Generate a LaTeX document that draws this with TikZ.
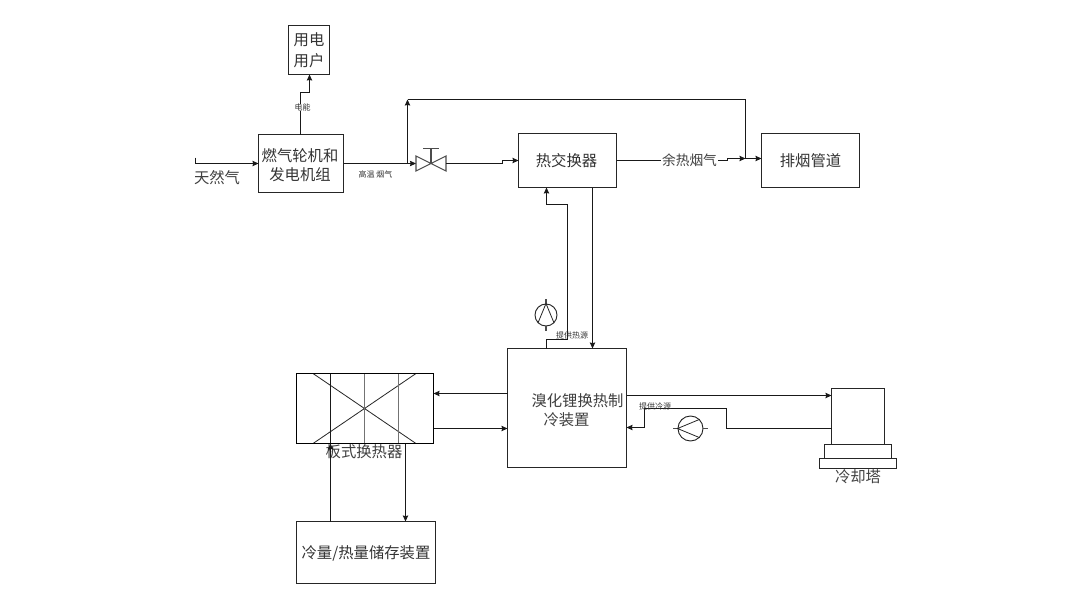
\documentclass[tikz,border=0pt]{standalone}
\usepackage{fontspec}
\setmainfont{Noto Sans CJK SC}
\usetikzlibrary{arrows.meta}
\tikzset{
  x=.75pt,y=-.75pt,
  box/.style n args={2}{draw=black!85,line width=.75pt,fill=white,inner sep=0pt,outer sep=0pt,align=center,
    minimum width=#1*.75pt,minimum height=#2*.75pt,font=\fontsize{11.5}{14.3}\selectfont,text=black!80},
  flow/.style={draw=black!90,line width=.75pt,-{Stealth[length=4.5pt,width=4pt,inset=.5pt]}},
  pipe/.style={draw=black!90,line width=.75pt},
  tiny label/.style={font=\fontsize{6}{7}\selectfont,text=black!80,inner sep=0pt},
  name label/.style={font=\fontsize{11.5}{14.3}\selectfont,text=black!75,inner sep=0pt},
  pumpbody/.style={circle,draw=black!85,line width=.7pt,inner sep=0pt,minimum size=#1*.75pt},
  stem/.style={draw=black!70,line width=.8pt},
  plate/.style={draw=black!55,line width=.9pt},
  thin line/.style={draw=black!85,line width=.6pt}
}
\begin{document}
\begin{tikzpicture}
\useasboundingbox (0,0) rectangle (1088,608);
% boxes
\node[box={41}{49},font=\fontsize{11.5}{15.7}\selectfont] (user) at (309,50) {用电\\用户};
\node[box={85}{58}] (gt) at (301,163.5) {};
\node[name label,align=center,text=black!80] (gttext) at (300,165) {燃气轮机和\\发电机组};
\node[box={98}{54}] (hx) at (567.5,160.5) {\hspace*{-1.5pt}热交换器};
\node[box={98}{54}] (stack) at (810.5,160.5) {排烟管道};
\node[box={119}{119}] (libr) at (567,408) {};
\node[name label,align=left] (librtext) at (577.5,410.5) {溴化锂换热制\\\hspace*{9pt}冷装置};
\node[box={137}{70}] (phe) at (365,408.5) {};
\node[box={139}{62}] (store) at (366,552.5) {};
\node[name label,text=black!80] (storetext) at (366,553.5) {冷量/热量储存装置};
% plate exchanger interior
\draw[thin line] (313,373.5) -- (416,443.5) (416,373.5) -- (313,443.5);
\draw[pipe] (330.5,373.5) -- (330.5,443.5);
\draw[plate] (364.5,373.5) -- (364.5,443.5) (398.5,373.5) -- (398.5,443.5);
\draw[draw=black,line width=.75pt] (phe.north west) rectangle (phe.south east);
\node[name label] (phelabel) at (364,451.5) {板式换热器};
% cooling tower
\node[box={53}{56}] (tower) at (858,416.5) {};
\node[box={67}{14}] (towermid) at (858,451.5) {};
\node[box={77}{10}] (towerbase) at (858,463.5) {};
\node[name label] (towerlabel) at (858,477) {冷却塔};
% valve
\node[minimum width=22.5pt,minimum height=11.25pt,inner sep=0pt,outer sep=0pt] (valve) at (431,163.5) {};
\draw[stem] (valve.north west) -- (valve.south east) -- (valve.north east)
  -- (valve.south west) -- cycle;
\draw[stem] (valve.center) -- (431,148.5) (423,148.5) -- (439,148.5);
% pumps
\node[pumpbody=22] (pumpa) at (546,315) {};
\draw[stem] (pumpa.north) -- ++(0,-5) (pumpa.south) -- ++(0,5);
\draw[thin line] (pumpa.south west) -- (pumpa.north) -- (pumpa.south east);
\node[pumpbody=25] (pumpb) at (690.5,428.5) {};
\draw[stem] (pumpb.west) -- ++(-5,0) (pumpb.east) -- ++(5,0);
\draw[thin line] (pumpb.north east) -- (pumpb.west) -- (pumpb.south east);
% free ends
\coordinate (gasin) at (195.5,157.5);
\coordinate (tee) at (407.5,163.5);
\coordinate (bypass) at (407.5,99.5);
\coordinate (join) at (745.5,158.5);
% connectors
\draw[flow] (gasin) |- (gt.west);
\draw[flow] (gt.north -| 300.5,0) -- (300.5,92.5) -- (309.5,92.5) -- (user.south -| 309.5,0);
\draw[flow] (gt.east) -- (valve.west);
\draw[flow] (399.5,163.5) -- (tee) -- (bypass);
\draw[pipe] (bypass) -| (join);
\draw[flow] (valve.east) -- (502.5,163.5) -- (502.5,160.5) -- (hx.west);
\draw[flow] (hx.east) -- (727.5,160.5) -- (727.5,158.5) -- (join);
\draw[flow] (join) -- (stack.west |- join);
\draw[flow] (libr.north -| 546.5,0) -- (546.5,339.5) -- (567.5,339.5) -- (567.5,204.5) -- (546.5,204.5) -- (hx.south -| 546.5,0);
\draw[flow] (hx.south -| 592.5,0) -- (libr.north -| 592.5,0);
\draw[flow] (libr.east |- 0,395.5) -- (tower.west |- 0,395.5);
\draw[flow] (tower.west |- 0,428.5) -- (726.5,428.5) -- (726.5,408.5) -- (644.5,408.5) -- (644.5,427.5) -- (libr.east |- 0,427.5);
\draw[flow] (libr.west |- 0,393.5) -- (phe.east |- 0,393.5);
\draw[flow] (phe.east |- 0,428.5) -- (libr.west |- 0,428.5);
\draw[flow] (store.north -| 330.5,0) -- (phe.south -| 330.5,0);
\draw[flow] (phe.south -| 405.5,0) -- (store.north -| 405.5,0);
% labels
\node[name label] (gaslabel) at (217,177.5) {天然气};
\node[tiny label,fill=white] (powerlabel) at (302.5,107.5) {电能};
\node[tiny label] (hotgas) at (375.5,174) {高温 烟气};
\node[name label,fill=white,inner xsep=.5pt,font=\fontsize{10.3}{12}\selectfont] (wastegas) at (689.5,160) {余热烟气};
\node[tiny label] (heatsrc) at (572,335) {提供热源};
\node[tiny label] (coldsrc) at (655,406) {提供冷源};
\end{tikzpicture}
\end{document}
